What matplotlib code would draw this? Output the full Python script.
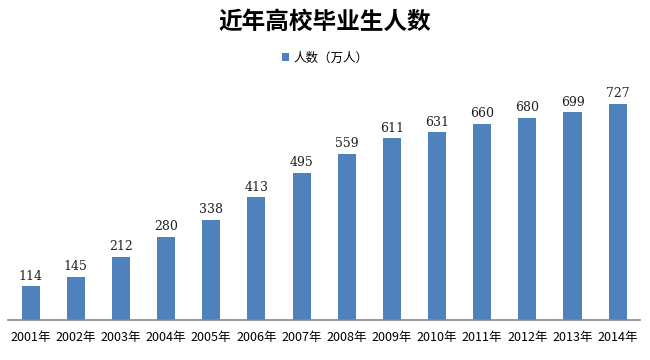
import matplotlib
matplotlib.use("Agg")
import matplotlib.pyplot as plt
import numpy as np

plt.rcParams['font.family'] = ['Noto Sans CJK SC', 'DejaVu Sans']

# data
years = ["2001年", "2002年", "2003年", "2004年", "2005年", "2006年", "2007年",
         "2008年", "2009年", "2010年", "2011年", "2012年", "2013年", "2014年"]
graduates = [114, 145, 212, 280, 338, 413, 495, 559, 611, 631, 660, 680, 699, 727]

BAR_COLOR = "#4f81bd"

fig = plt.figure(figsize=(6.5, 3.6), dpi=100)
ax = fig.add_axes([0.0123, 0.111, 0.9727, 0.661])

x = np.arange(len(years))
bars = ax.bar(x, graduates, width=0.4, color=BAR_COLOR, label="人数（万人）")

# value labels
for xi, v in zip(x, graduates):
    ax.text(xi, v + 12, str(v), ha="center", va="bottom", fontsize=9,
            family=["DejaVu Serif"], color="#222222")

ax.set_xlim(-0.5, len(years) - 0.5)
ax.set_ylim(0, 800)
ax.set_xticks(x)
ax.set_xticklabels(years, fontsize=9)
ax.tick_params(axis="x", length=0, pad=8)
ax.set_yticks([])

for side in ["top", "right", "left"]:
    ax.spines[side].set_visible(False)
ax.spines["bottom"].set_color("#888888")
ax.spines["bottom"].set_linewidth(1.2)

fig.text(0.5, 0.94, "近年高校毕业生人数", ha="center", va="center",
         fontsize=17, fontweight="bold")
fig.legend(handles=[bars], labels=["人数（万人）"], loc="center",
           bbox_to_anchor=(0.5, 0.838), frameon=False, fontsize=9,
           handlelength=0.6, handleheight=0.6, handletextpad=0.3)

fig.savefig("out.png", dpi=100)
